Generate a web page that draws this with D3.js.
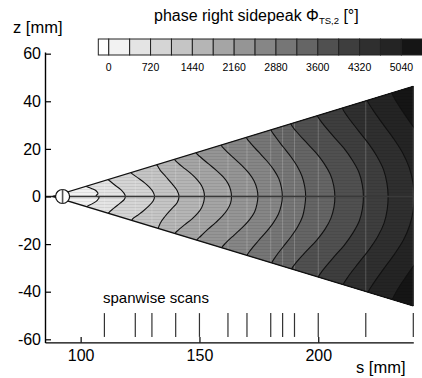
<!DOCTYPE html>
<html>
<head>
<meta charset="utf-8">
<script src="https://cdn.jsdelivr.net/npm/d3@7"></script>
<style>
  body { margin: 0; background: #fff; }
  svg { display: block; }
  text { font-family: "Liberation Sans", Arial, sans-serif; fill: #000; }
</style>
</head>
<body>
<svg id="chart" width="422" height="378"></svg>
<script>
// ---- colour scale: phase band limits [deg] and their grey levels ----
const bandLimits = [-180, 0, 360, 720, 1080, 1440, 1800, 2160, 2520, 2880, 3240, 3600, 3960, 4320, 4680, 5040, 5400];
const bandGreys  = [255, 242, 228, 213, 197, 181, 165, 149, 134, 118, 101, 80, 62, 47, 36, 21];
const colorbarTicks = [0, 720, 1440, 2160, 2880, 3600, 4320, 5040];

// ---- axis ticks [mm] ----
const sMajor = [100, 150, 200];
const sMinor = [90, 110, 120, 130, 140, 160, 170, 180, 190, 210, 220, 230, 240];
const zMajor = [-60, -40, -20, 0, 20, 40, 60];
const zMinor = [-56, -52, -48, -44, -36, -32, -28, -24, -16, -12, -8, -4,
                4, 8, 12, 16, 24, 28, 32, 36, 44, 48, 52, 56];

// ---- measurement geometry [mm] ----
const scanPositions = [110, 123, 130, 140, 150, 162, 170, 180, 185, 190, 200, 220, 240];
const scanMarkZ = [-49, -59];
const wedgeOutline = [[88.3, 0], [240, 46.3], [240, -46.0]];
const sourceCentre = [92.4, 0];
const sourceRadius = 2.95;

// ---- iso-phase lines [s, z] in mm, one array per level ----
const phase360 = [[101.0, 6.5], [101.8, 4.6], [104.5, 3.4], [106.6, 2.3], [107.3, 1.2], [106.5, 0.4],
  [107.8, -0.4], [107.0, -1.6], [105.0, -3.0], [102.5, -4.4], [101.6, -6.5]];
const phase720 = [[110.5, 9.5], [111.5, 7.2], [112.3, 6.5], [114.5, 4.7], [116.9, 2.9], [118.3, 1.3],
  [118.8, 0], [118.4, -1.2], [116.6, -2.8], [114.0, -4.9], [111.7, -7.0], [110.8, -9.5]];
const phase1080 = [[120.2, 12.5], [121.1, 10.1], [122.0, 9.3], [124.1, 7.8], [126.8, 5.8], [128.9, 3.9],
  [130.5, 1.9], [131.1, 0], [130.5, -1.9], [128.5, -4.2], [126.1, -6.3], [124.0, -7.9], [121.8, -9.5], [121.0, -12.5]];
const phase1440 = [[131.6, 16], [132.0, 13.4], [132.6, 12.5], [133.5, 11.0], [135.8, 8.4], [138.5, 5.3],
  [140.6, 2.5], [141.4, 0], [140.6, -2.6], [138.0, -5.5], [135.4, -8.5], [133.5, -11.2], [132.6, -13.6], [132.2, -16]];
const phase1800 = [[139.1, 19.0], [139.5, 15.6], [141.0, 14.0], [143.8, 11.7], [146.7, 9.4], [149.1, 7.0],
  [150.8, 4.7], [151.8, 2.3], [152.1, 0], [151.8, -2.3], [150.9, -4.7], [149.3, -7.0], [146.9, -9.4],
  [144.0, -11.7], [141.2, -14.0], [139.7, -15.6], [139.3, -19.0]];
const phase2160 = [[148.2, 22.0], [148.6, 18.4], [150.4, 16.6], [153.7, 13.8], [157.1, 11.0], [159.9, 8.3],
  [162.0, 5.5], [163.1, 2.8], [163.5, 0], [163.1, -2.8], [161.8, -5.5], [159.6, -8.3], [156.8, -11.0],
  [153.5, -13.8], [150.6, -16.6], [148.8, -18.5], [148.4, -22.0]];
const phase2520 = [[158.7, 25.5], [159.1, 21.6], [161.0, 19.4], [164.4, 16.2], [167.9, 13.0], [170.9, 9.7],
  [173.0, 6.5], [174.2, 3.2], [174.6, 0], [174.2, -3.2], [173.2, -6.5], [171.1, -9.7], [168.1, -13.0],
  [164.6, -16.2], [161.2, -19.4], [159.3, -21.7], [158.9, -25.5]];
const phase2880 = [[169.3, 29.0], [169.7, 24.9], [171.5, 22.4], [174.9, 18.7], [178.4, 14.9], [181.3, 11.2],
  [183.4, 7.5], [184.5, 3.7], [184.9, 0], [184.4, -3.7], [183.2, -7.5], [181.0, -11.2], [178.1, -14.9],
  [174.7, -18.7], [171.6, -22.4], [169.9, -25.0], [169.5, -29.0]];
const phase3240 = [[179.7, 32.0], [180.1, 28.0], [181.9, 25.2], [185.1, 21.0], [188.4, 16.8], [191.2, 12.6],
  [193.2, 8.4], [194.3, 4.2], [194.7, 0], [194.3, -4.2], [193.4, -8.4], [191.4, -12.6], [188.6, -16.8],
  [185.3, -21.0], [182.1, -25.2], [180.3, -28.2], [179.9, -32.0]];
const phase3600 = [[188.0, 34.5], [188.4, 30.6], [190.6, 27.5], [194.7, 23.0], [199.0, 18.4], [202.5, 13.8],
  [205.1, 9.2], [206.5, 4.6], [207.0, 0], [206.6, -4.6], [205.3, -9.2], [202.8, -13.8], [199.3, -18.4],
  [195.0, -23.0], [190.9, -27.5], [188.6, -30.8], [188.2, -34.5]];
const phase3960 = [[199.2, 38.0], [199.6, 34.0], [201.9, 30.6], [206.2, 25.5], [210.7, 20.4], [214.3, 15.3],
  [217.1, 10.2], [218.5, 5.1], [219.0, 0], [218.6, -5.1], [217.3, -10.2], [214.6, -15.3], [211.0, -20.4],
  [206.5, -25.5], [202.2, -30.6], [199.8, -34.2], [199.4, -38.0]];
const phase4320 = [[209.7, 41.0], [210.1, 37.2], [212.4, 33.5], [216.7, 27.9], [221.1, 22.3], [224.8, 16.7],
  [227.5, 11.2], [228.9, 5.6], [229.4, 0], [229.0, -5.6], [227.7, -11.2], [225.1, -16.7], [221.4, -22.3],
  [217.0, -27.9], [212.7, -33.5], [210.3, -37.4], [209.9, -41.0]];
const phase4680 = [[220.2, 44.0], [220.6, 40.4], [223.0, 36.4], [227.3, 30.3], [231.8, 24.2], [235.6, 18.2],
  [238.3, 12.1], [239.8, 6.1], [240.3, 0], [239.9, -6.1], [238.5, -12.1], [235.9, -18.2], [232.1, -24.2],
  [227.6, -30.3], [223.3, -36.4], [220.8, -40.6], [220.4, -44.0]];
const phase5040 = [[230.5, 47.5], [230.9, 43.6], [233.3, 39.2], [237.6, 32.7], [242.1, 26.2], [245.9, 19.6],
  [248.6, 13.1], [250.1, 6.5], [250.6, 0], [250.1, -6.5], [248.6, -13.1], [245.9, -19.6], [242.1, -26.2],
  [237.6, -32.7], [233.3, -39.2], [231.0, -43.8], [230.6, -47.5]];

const isoLines = [
  { level: 360, pts: phase360 }, { level: 720, pts: phase720 }, { level: 1080, pts: phase1080 },
  { level: 1440, pts: phase1440 }, { level: 1800, pts: phase1800 }, { level: 2160, pts: phase2160 },
  { level: 2520, pts: phase2520 }, { level: 2880, pts: phase2880 }, { level: 3240, pts: phase3240 },
  { level: 3600, pts: phase3600 }, { level: 3960, pts: phase3960 }, { level: 4320, pts: phase4320 },
  { level: 4680, pts: phase4680 }, { level: 5040, pts: phase5040 }
];

// ---- scales ----
const x = d3.scaleLinear().domain([85, 240]).range([45, 413.3]);
const y = d3.scaleLinear().domain([-61.3, 60.7]).range([342.4, 52]);
const grey = v => { const g = Math.round(v); return `rgb(${g},${g},${g})`; };
const bandColour = level => {
  const i = d3.bisectRight(bandLimits, level) - 1;
  return grey(bandGreys[Math.max(0, Math.min(bandGreys.length - 1, i))]);
};

const svg = d3.select("#chart");
const defs = svg.append("defs");
const wedgePath = "M" + wedgeOutline.map(p => [x(p[0]), y(p[1])].join(",")).join("L") + "Z";

defs.append("clipPath").attr("id", "wedgeClip").append("path").attr("d", wedgePath);

// mesh texture of the measurement grid
const mesh = defs.append("pattern").attr("id", "mesh")
  .attr("patternUnits", "userSpaceOnUse").attr("width", 6).attr("height", 3);
mesh.append("rect").attr("width", 6).attr("height", 1).attr("fill", "#000").attr("opacity", 0.08);

const smooth = d3.line().x(d => x(d[0])).y(d => y(d[1])).curve(d3.curveCatmullRom.alpha(0.5));
const straight = d3.line().x(d => x(d[0])).y(d => y(d[1]));

// ---- contour flood ----
const plot = svg.append("g").attr("clip-path", "url(#wedgeClip)");
plot.append("path").attr("d", wedgePath).attr("fill", bandColour(0));

isoLines.forEach(c => {
  const first = c.pts[0], last = c.pts[c.pts.length - 1];
  const outer = "L" + [x(265), y(last[1] - 45)].join(",") + "L" + [x(265), y(first[1] + 45)].join(",") + "Z";
  plot.append("path")
    .attr("d", smooth(c.pts) + outer)
    .attr("fill", bandColour(c.level));
});

plot.append("rect")
  .attr("x", x(85)).attr("y", y(50)).attr("width", x(240) - x(85)).attr("height", y(-50) - y(50))
  .attr("fill", "url(#mesh)");

// scan stations as light grid columns
plot.selectAll("line.scanCol").data(scanPositions).join("line")
  .attr("class", "scanCol")
  .attr("x1", d => x(d)).attr("x2", d => x(d))
  .attr("y1", y(50)).attr("y2", y(-50))
  .attr("stroke", "#fff").attr("stroke-opacity", 0.2).attr("stroke-width", 1);

// iso-phase lines
plot.selectAll("path.iso").data(isoLines).join("path")
  .attr("class", "iso")
  .attr("d", d => smooth(d.pts))
  .attr("fill", "none").attr("stroke", "#111").attr("stroke-width", 1.1);

// centre line
svg.append("line")
  .attr("x1", x(85)).attr("x2", x(240)).attr("y1", y(0)).attr("y2", y(0))
  .attr("stroke", "#3a3a3a").attr("stroke-width", 1.3);

// wedge edges
svg.append("path")
  .attr("d", straight([wedgeOutline[1], wedgeOutline[0], wedgeOutline[2]]))
  .attr("fill", "none").attr("stroke", "#111").attr("stroke-width", 1.3);

// point source
svg.append("circle")
  .attr("cx", x(sourceCentre[0])).attr("cy", y(sourceCentre[1]))
  .attr("r", x(sourceCentre[0] + sourceRadius) - x(sourceCentre[0]))
  .attr("fill", "#fff").attr("stroke", "#111").attr("stroke-width", 1.2);
svg.append("line")
  .attr("x1", x(sourceCentre[0])).attr("x2", x(sourceCentre[0]))
  .attr("y1", y(sourceRadius)).attr("y2", y(-sourceRadius))
  .attr("stroke", "#555").attr("stroke-width", 1.6);

// spanwise scan markers
svg.selectAll("line.scanMark").data(scanPositions).join("line")
  .attr("class", "scanMark")
  .attr("x1", d => x(d)).attr("x2", d => x(d))
  .attr("y1", y(scanMarkZ[0])).attr("y2", y(scanMarkZ[1]))
  .attr("stroke", "#333").attr("stroke-width", 1.2);
svg.append("text").attr("x", 103).attr("y", 303.3)
  .attr("font-size", 15).text("spanwise scans");

// ---- axes ----
const fmt = d => String(d);
const gx = svg.append("g").attr("transform", `translate(0,${y(-61.3)})`);
gx.call(d3.axisBottom(x).tickValues(sMinor).tickSize(-3).tickSizeOuter(0).tickFormat(""));
gx.call(d3.axisBottom(x).tickValues(sMajor).tickSize(-5.5).tickSizeOuter(0).tickPadding(7).tickFormat(fmt));
const gy = svg.append("g").attr("transform", `translate(${x(85)},0)`);
gy.call(d3.axisLeft(y).tickValues(zMinor).tickSize(-3.5).tickSizeOuter(0).tickFormat(""));
gy.call(d3.axisLeft(y).tickValues(zMajor).tickSize(-6).tickSizeOuter(0).tickPadding(4).tickFormat(fmt));
svg.selectAll(".tick text").attr("font-size", 16).attr("font-family", '"Liberation Sans", Arial, sans-serif').attr("fill", "#000");
svg.selectAll(".domain").attr("stroke", "#000").attr("stroke-width", 1.4);
svg.selectAll(".tick line").attr("stroke", "#000").attr("stroke-width", 1.2);

svg.append("text").attr("x", 13).attr("y", 33.3).attr("font-size", 16.5).text("z [mm]");
svg.append("text").attr("x", 356).attr("y", 372.5).attr("font-size", 16.5).text("s [mm]");

// ---- colour bar ----
const cb = d3.scaleLinear().domain([-180, 5400]).range([98.3, 422.3]);
const cbTop = 39, cbBottom = 55;
const bar = svg.append("g");
bar.selectAll("rect").data(bandGreys).join("rect")
  .attr("x", (d, i) => cb(bandLimits[i]))
  .attr("width", (d, i) => cb(bandLimits[i + 1]) - cb(bandLimits[i]))
  .attr("y", cbTop).attr("height", cbBottom - cbTop)
  .attr("fill", d => grey(d))
  .attr("stroke", "#222").attr("stroke-width", 1);
bar.selectAll("text").data(colorbarTicks).join("text")
  .attr("x", d => cb(d)).attr("y", 70.7)
  .attr("text-anchor", "middle").attr("font-size", 10.5)
  .text(d => d);

const title = svg.append("text").attr("x", 154).attr("y", 20.7).attr("font-size", 16);
title.append("tspan").text("phase right sidepeak \u03A6");
title.append("tspan").attr("font-size", 9.5).attr("dy", 3.5).text("TS,2");
title.append("tspan").attr("dy", -3.5).text(" [\u00B0]");
</script>
</body>
</html>
